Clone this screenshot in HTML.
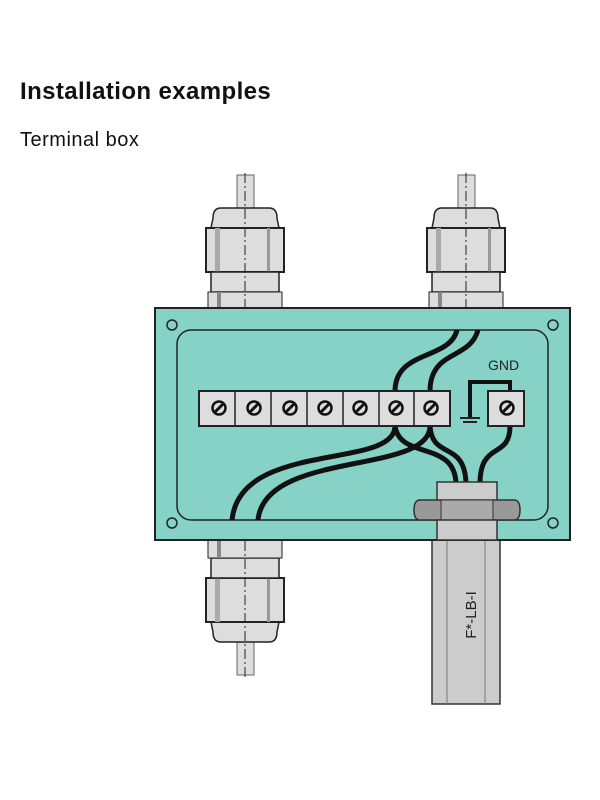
<!DOCTYPE html>
<html><head><style>
body{margin:0;background:#fff;width:600px;height:800px;overflow:hidden;font-family:"Liberation Sans",Arial,sans-serif}
.t{position:absolute;left:20px;color:#111}
</style></head><body>
<div class="t" style="top:78px;font-size:24px;font-weight:bold;letter-spacing:0.4px">Installation examples</div>
<div class="t" style="top:129px;font-size:20px;letter-spacing:0.5px">Terminal box</div>
<svg style="position:absolute;left:0;top:0" width="600" height="800" viewBox="0 0 600 800">
<defs>
<g id="glandTop" stroke="#222" stroke-width="1.5">
<rect x="-8" y="-123" width="17" height="38" fill="#ddd" stroke="#666" stroke-width="1"/>
<path d="M-32,-80 Q-32,-90 -24,-90 L24,-90 Q32,-90 32,-80 L34,-70 L-34,-70 Z" fill="#ddd"/>
<rect x="-39" y="-70" width="78" height="44" fill="#ddd" stroke-width="2"/>
<rect x="-30" y="-70" width="5" height="44" fill="#aaa" stroke="none"/>
<rect x="22" y="-70" width="3" height="44" fill="#999" stroke="none"/>
<rect x="-34" y="-26" width="68" height="20" fill="#ddd"/>
<rect x="-37" y="-6" width="74" height="20" fill="#ddd" stroke-width="1"/>
<rect x="-28" y="-6" width="4" height="20" fill="#888" stroke="none"/>
<line x1="0" y1="-125" x2="0" y2="20" stroke="#222" stroke-width="1" stroke-dasharray="10,3,2,3"/>
</g>
</defs>
<g transform="translate(245,298)"><use href="#glandTop"/></g>
<g transform="translate(466,298)"><use href="#glandTop"/></g>
<g transform="translate(245,552) scale(1,-1)"><use href="#glandTop"/></g>
<rect x="432" y="538" width="68" height="166" fill="#ccc" stroke="#333" stroke-width="1.5"/>
<line x1="447" y1="540" x2="447" y2="704" stroke="#777"/>
<line x1="485" y1="540" x2="485" y2="704" stroke="#777"/>
<text transform="translate(476,615) rotate(-90)" text-anchor="middle" font-size="15" fill="#222" font-family="Liberation Sans,sans-serif">F*-LB-I</text>
<rect x="155" y="308" width="415" height="232" fill="#86d2c6" stroke="#222" stroke-width="2"/>
<rect x="177" y="330" width="371" height="190" rx="14" fill="#86d2c6" stroke="#222" stroke-width="1.5"/>
<g fill="none" stroke="#222" stroke-width="1.5">
<circle cx="172" cy="325" r="5"/><circle cx="553" cy="325" r="5"/>
<circle cx="172" cy="523" r="5"/><circle cx="553" cy="523" r="5"/>
</g>
<g fill="none" stroke="#111" stroke-width="5">
<path d="M457,330 C450,360 395,350 395,391"/>
<path d="M478,330 C470,360 430,350 430,391"/>
<path d="M395,426 C395,470 240,440 232,520"/>
<path d="M430,426 C430,475 265,450 258,520"/>
<path d="M395,426 C400,460 455,440 456,484"/>
<path d="M430,426 C432,460 465,440 466,484"/>
<path d="M510,426 C510,460 480,440 480,484"/>
<path d="M470,418 L470,382 L510,382 L510,391" stroke-width="4"/>
</g>
<g stroke="#222" stroke-width="2"><line x1="460" y1="418" x2="480" y2="418"/><line x1="463" y1="422" x2="477" y2="422"/></g>
<text x="488" y="370" font-size="14" fill="#222" font-family="Liberation Sans,sans-serif">GND</text>
<rect x="199" y="391" width="251" height="35" fill="#ddd" stroke="#222" stroke-width="2"/>
<g stroke="#222" stroke-width="1.5" fill="none">
<line x1="235" y1="391" x2="235" y2="426"/><line x1="271" y1="391" x2="271" y2="426"/>
<line x1="307" y1="391" x2="307" y2="426"/><line x1="343" y1="391" x2="343" y2="426"/>
<line x1="379" y1="391" x2="379" y2="426"/><line x1="414" y1="391" x2="414" y2="426"/>
</g>
<g fill="#ddd" stroke="#111" stroke-width="2.5">
<circle cx="219" cy="408" r="6.5"/><circle cx="254" cy="408" r="6.5"/><circle cx="290" cy="408" r="6.5"/>
<circle cx="325" cy="408" r="6.5"/><circle cx="360" cy="408" r="6.5"/><circle cx="396" cy="408" r="6.5"/>
<circle cx="431" cy="408" r="6.5"/>
</g>
<g stroke="#111" stroke-width="3">
<line x1="214" y1="413" x2="224" y2="403"/><line x1="249" y1="413" x2="259" y2="403"/><line x1="285" y1="413" x2="295" y2="403"/>
<line x1="320" y1="413" x2="330" y2="403"/><line x1="355" y1="413" x2="365" y2="403"/><line x1="391" y1="413" x2="401" y2="403"/>
<line x1="426" y1="413" x2="436" y2="403"/>
</g>
<rect x="488" y="391" width="36" height="35" fill="#ddd" stroke="#222" stroke-width="2"/>
<circle cx="507" cy="408" r="6.5" fill="#ddd" stroke="#111" stroke-width="2.5"/>
<line x1="502" y1="413" x2="512" y2="403" stroke="#111" stroke-width="3"/>
<rect x="437" y="482" width="60" height="20" fill="#ccc" stroke="#333" stroke-width="1.5"/>
<path d="M420,500 L514,500 Q520,500 520,510 Q520,520 514,520 L420,520 Q414,520 414,510 Q414,500 420,500 Z" fill="#999" stroke="#333" stroke-width="1.5"/>
<rect x="441" y="500" width="52" height="20" fill="#aaa" stroke="#333" stroke-width="1"/>
<rect x="437" y="520" width="60" height="20" fill="#ccc" stroke="#333" stroke-width="1.5"/>
</svg>
</body></html>
